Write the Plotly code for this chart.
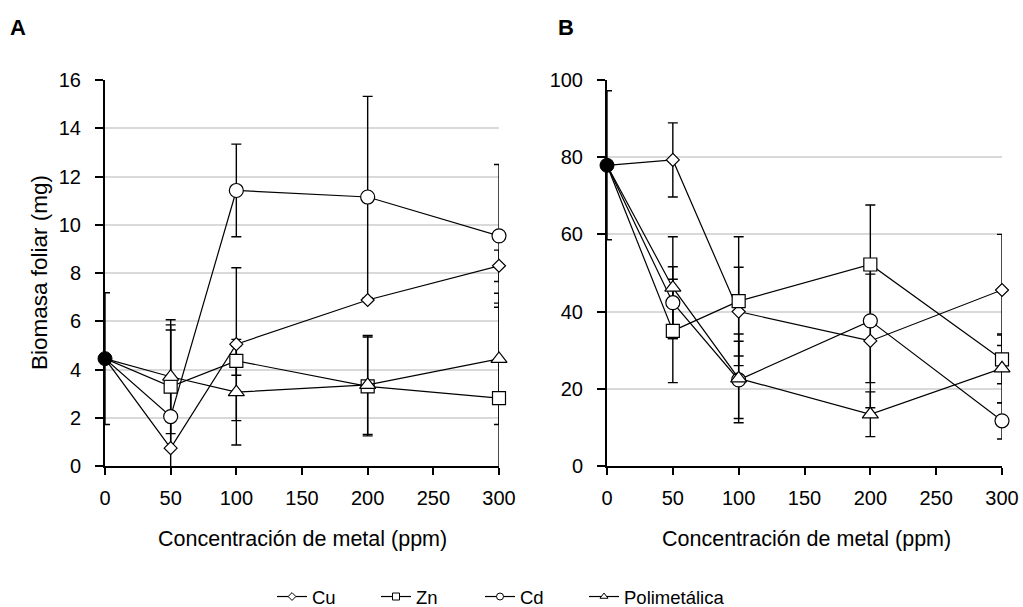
import plotly.graph_objects as go

# ---------------- data ----------------
conc = [0, 50, 100, 200, 300]
conc_ticks = [0, 50, 100, 150, 200, 250, 300]

series_names = ["Cu", "Zn", "Cd", "Polimetálica"]
series_symbols = ["diamond", "square", "circle", "triangle-up"]
series_sizes = [10, 13, 14, 14]

# Panel A - Biomasa foliar (mg)
ctrl_A = 4.45
ctrl_A_err = 2.73
cu_A = [4.45, 0.74, 5.05, 6.88, 8.30]
cu_A_err = [0, 0, 3.17, 0, 0.65]
zn_A = [4.45, 3.29, 4.36, 3.30, 2.81]
zn_A_err = [0, 2.56, 0.6, 2.05, 3.94]
cd_A = [4.45, 2.05, 11.42, 11.15, 9.54]
cd_A_err = [0, 3.59, 1.92, 4.17, 2.96]
po_A = [4.45, 3.70, 3.06, 3.36, 4.44]
po_A_err = [0, 2.36, 2.19, 2.05, 2.72]

# Panel B
ctrl_B = 77.9
ctrl_B_err = 19.3
cu_B = [77.9, 79.3, 40.0, 32.4, 45.6]
cu_B_err = [0, 9.6, 11.5, 17.3, 14.4]
zn_B = [77.9, 35.0, 42.7, 52.2, 27.6]
zn_B_err = [0, 13.4, 16.7, 15.4, 6.3]
cd_B = [77.9, 42.3, 22.3, 37.6, 11.7]
cd_B_err = [0, 9.3, 10.0, 16.0, 4.7]
po_B = [77.9, 46.2, 22.7, 13.4, 25.3]
po_B_err = [0, 13.2, 11.5, 5.8, 8.9]

panel_A = [(cu_A, cu_A_err), (zn_A, zn_A_err), (cd_A, cd_A_err), (po_A, po_A_err)]
panel_B = [(cu_B, cu_B_err), (zn_B, zn_B_err), (cd_B, cd_B_err), (po_B, po_B_err)]

W, H = 1023, 607
FAM = "Liberation Sans, Arial, sans-serif"
TICK_FONT = dict(family=FAM, size=20, color="black")
TITLE_FONT = dict(family=FAM, size=21.5, color="black")
YTITLE_FONT = dict(family=FAM, size=22.5, color="black")
LEG_FONT = dict(family=FAM, size=18.5, color="black")

fig = go.Figure()
EB = dict(type="data", visible=True, color="black", thickness=1.4, width=5)


def add_panel(data, ctrl, ctrl_err, xa, ya):
    # error bars (clipped to the plotting area)
    for vals, errs in data:
        fig.add_trace(go.Scatter(
            x=conc[1:], y=vals[1:], xaxis=xa, yaxis=ya, mode="markers",
            marker=dict(size=1, color="rgba(0,0,0,0)"),
            error_y=dict(array=errs[1:], **EB),
            cliponaxis=True, showlegend=False, hoverinfo="skip"))
    fig.add_trace(go.Scatter(
        x=[conc[0]], y=[ctrl], xaxis=xa, yaxis=ya, mode="markers",
        marker=dict(size=1, color="rgba(0,0,0,0)"),
        error_y=dict(array=[ctrl_err], **EB),
        cliponaxis=True, showlegend=False, hoverinfo="skip"))
    # lines, then open markers (control point drawn separately)
    for (vals, errs), sym, sz in zip(data, series_symbols, series_sizes):
        fig.add_trace(go.Scatter(
            x=conc, y=vals, xaxis=xa, yaxis=ya, mode="lines",
            line=dict(color="black", width=1.2),
            cliponaxis=False, showlegend=False, hoverinfo="skip"))
        fig.add_trace(go.Scatter(
            x=conc[1:], y=vals[1:], xaxis=xa, yaxis=ya, mode="markers",
            marker=dict(symbol=sym, size=sz, color="white", opacity=1,
                        line=dict(color="black", width=1.2)),
            cliponaxis=False, showlegend=False, hoverinfo="skip"))
    fig.add_trace(go.Scatter(
        x=[conc[0]], y=[ctrl], xaxis=xa, yaxis=ya, mode="markers",
        marker=dict(symbol="circle", size=14, color="black",
                    line=dict(color="black", width=1)),
        cliponaxis=False, showlegend=False, hoverinfo="skip"))


add_panel(panel_A, ctrl_A, ctrl_A_err, "x", "y")
add_panel(panel_B, ctrl_B, ctrl_B_err, "x2", "y2")

# legend entries
for name, sym in zip(series_names, series_symbols):
    fig.add_trace(go.Scatter(
        x=[None], y=[None], mode="lines+markers", name=name,
        line=dict(color="black", width=1.2),
        marker=dict(symbol=sym, size=7 if sym != "diamond" else 6, color="white",
                    line=dict(color="black", width=1)),
        legendwidth=110 if name == "Polimetálica" else 59,
        showlegend=True))

yd = [1 - 466 / H, 1 - 80 / H]
xdA = [105 / W, 499 / W]
xdB = [607 / W, 1002 / W]

xcommon = dict(range=[0, 300], tickvals=conc_ticks, showgrid=False, zeroline=False,
               showline=True, linecolor="black", linewidth=2, ticks="outside",
               ticklen=7, tickwidth=1.5, tickcolor="black", tickfont=TICK_FONT,
               ticklabelstandoff=6, automargin=False)
ycommon = dict(showgrid=True, gridcolor="#d9d9d9", gridwidth=1.5, zeroline=False,
               showline=True, linecolor="black", linewidth=2, ticks="outside",
               ticklen=8, tickwidth=1.5, tickcolor="black", tickfont=TICK_FONT,
               ticklabelstandoff=10, automargin=False)

fig.update_layout(
    width=W, height=H, paper_bgcolor="white", plot_bgcolor="white",
    margin=dict(l=0, r=0, t=0, b=0, autoexpand=False),
    xaxis=dict(domain=xdA, anchor="y", **xcommon),
    yaxis=dict(domain=yd, anchor="x", range=[0, 16], dtick=2, **ycommon),
    xaxis2=dict(domain=xdB, anchor="y2", **xcommon),
    yaxis2=dict(domain=yd, anchor="x2", range=[0, 100], dtick=20, **ycommon),
    legend=dict(orientation="h", x=272 / W, xanchor="left", y=1 - 597 / H,
                yanchor="middle", font=LEG_FONT,
                entrywidthmode="pixels", bgcolor="rgba(0,0,0,0)"),
    showlegend=True,
)

ann = [
    dict(text="<b>A</b>", x=18 / W, y=1 - 28 / H, font=dict(family=FAM, size=22, color="black")),
    dict(text="<b>B</b>", x=566 / W, y=1 - 28 / H, font=dict(family=FAM, size=22, color="black")),
    dict(text="Concentración de metal (ppm)", x=302 / W, y=1 - 539 / H, font=TITLE_FONT),
    dict(text="Concentración de metal (ppm)", x=806 / W, y=1 - 539 / H, font=TITLE_FONT),
    dict(text="Biomasa foliar (mg)", x=39 / W, y=1 - 273 / H, font=YTITLE_FONT, textangle=-90),
]
for a in ann:
    fig.add_annotation(xref="paper", yref="paper", showarrow=False,
                       xanchor="center", yanchor="middle", **a)

fig.write_html("out.html", config={"displayModeBar": False},
               post_script="document.body.style.margin='0px';document.body.style.overflow='hidden';")
